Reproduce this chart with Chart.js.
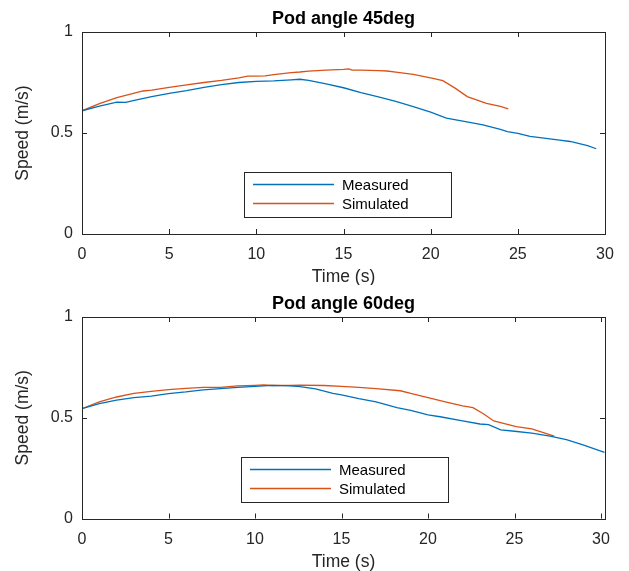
<!DOCTYPE html>
<html>
<head>
<meta charset="utf-8">
<script src="https://cdn.jsdelivr.net/npm/chart.js@4/dist/chart.umd.min.js"></script>
<style>
html,body{margin:0;padding:0;background:#fff;}
#wrap{position:relative;width:629px;height:571px;overflow:hidden;}
.pane{position:absolute;left:0;}
</style>
</head>
<body>
<div id="wrap">
  <div class="pane" style="top:0px"><canvas id="c1" width="629" height="285"></canvas></div>
  <div class="pane" style="top:285px"><canvas id="c2" width="629" height="286"></canvas></div>
</div>
<script>
// ---------- DATA ----------
const titles = ["Pod angle 45deg", "Pod angle 60deg"];
const seriesLabels = ["Measured", "Simulated"];
const xTitle = "Time (s)";
const yTitle = "Speed (m/s)";
const yTickValues = [0, 0.5, 1];
const xTickStep = 5;

const t45Measured = [0,1,2,2.5,3,4,5,6,7,8,9,10,11,12,12.5,13,14,15,16,17,18,19,20,20.9,22,23,24,24.4,25,25.7,26.5,27.4,28,29,29.5];
const v45Measured = [0.610,0.633,0.653,0.652,0.662,0.680,0.696,0.710,0.726,0.740,0.750,0.756,0.758,0.763,0.766,0.760,0.743,0.724,0.700,0.679,0.656,0.630,0.603,0.574,0.556,0.540,0.518,0.507,0.498,0.483,0.475,0.465,0.458,0.438,0.422];

const t45Simulated = [0,1,2,3,3.5,4,5,6,7,8,9,9.5,10,10.5,11,12,12.5,13,14,15,15.3,15.5,16,17,17.5,18,19,20,20.7,21.4,22.1,23.2,24,24.45];
const v45Simulated = [0.610,0.645,0.675,0.697,0.708,0.712,0.726,0.738,0.750,0.760,0.773,0.782,0.782,0.783,0.789,0.799,0.802,0.806,0.811,0.815,0.817,0.811,0.811,0.809,0.807,0.801,0.790,0.773,0.759,0.722,0.680,0.647,0.632,0.620];

const t60Measured = [0,1,2,3,4,5,6,7,8,9,10,11,12,12.6,13.5,14.5,15,16,17,18.2,19,20,20.7,22,23,23.5,24.2,25,26,27.05,28,29,30.2];
const v60Measured = [0.545,0.570,0.587,0.600,0.607,0.620,0.628,0.638,0.645,0.651,0.656,0.661,0.658,0.654,0.643,0.621,0.613,0.595,0.579,0.550,0.537,0.514,0.505,0.484,0.469,0.466,0.440,0.433,0.424,0.409,0.392,0.364,0.328];

const t60Simulated = [0,1,2,3,4,5,6,7,8,9,10,10.5,11,12,12.6,14,15,16,17,18.4,19,20,21,22,22.6,23.2,23.8,25.1,26,27.3];
const v60Simulated = [0.545,0.579,0.603,0.621,0.631,0.640,0.646,0.651,0.651,0.658,0.661,0.663,0.660,0.661,0.662,0.660,0.656,0.651,0.645,0.634,0.621,0.600,0.579,0.559,0.550,0.520,0.484,0.456,0.445,0.409];

const xMax = [30, 30.23];

// ---------- STYLE ----------
const colBlue = "#0072BD";
const colOrange = "#D95319";
const axisCol = "#262626";
const fontFam = "'Liberation Sans', Arial, Helvetica, sans-serif";

function pts(xs, ys){ return xs.map((x,i)=>({x:x, y:ys[i]})); }

const matlabPlugin = {
  id: 'matlabDecor',
  afterDraw(chart, args, opts){
    const ctx = chart.ctx;
    const a = chart.chartArea;
    const xs = chart.scales.x, ys = chart.scales.y;
    ctx.save();
    // box
    ctx.strokeStyle = axisCol;
    ctx.lineWidth = 1;
    ctx.strokeRect(Math.round(a.left)+0.5, Math.round(a.top)+0.5, Math.round(a.right-a.left), Math.round(a.bottom-a.top));
    // inner ticks
    const tl = 5;
    ctx.beginPath();
    xs.ticks.forEach(t=>{
      const px = Math.round(xs.getPixelForValue(t.value))+0.5;
      ctx.moveTo(px, a.bottom); ctx.lineTo(px, a.bottom - tl);
      ctx.moveTo(px, a.top); ctx.lineTo(px, a.top + tl);
    });
    ys.ticks.forEach(t=>{
      const py = Math.round(ys.getPixelForValue(t.value))+0.5;
      ctx.moveTo(a.left, py); ctx.lineTo(a.left + tl, py);
      ctx.moveTo(a.right, py); ctx.lineTo(a.right - tl, py);
    });
    ctx.stroke();
    // title
    const cx = (a.left + a.right)/2;
    ctx.fillStyle = "#000";
    ctx.font = "bold 18px " + fontFam;
    ctx.textAlign = "center";
    ctx.textBaseline = "alphabetic";
    ctx.fillText(opts.title, cx, 24);
    // x title
    ctx.fillStyle = axisCol;
    ctx.font = "17.5px " + fontFam;
    ctx.fillText(xTitle, cx, 282);
    // y title
    ctx.save();
    ctx.translate(23, (a.top + a.bottom)/2);
    ctx.rotate(-Math.PI/2);
    ctx.textBaseline = "middle";
    ctx.fillText(yTitle, 0, 0);
    ctx.restore();
    // legend
    const L = opts.legend;
    ctx.fillStyle = "#fff";
    ctx.fillRect(L.left, L.top, L.width, L.height);
    ctx.strokeStyle = axisCol;
    ctx.lineWidth = 1;
    ctx.strokeRect(L.left+0.5, L.top+0.5, L.width, L.height);
    ctx.font = "15px " + fontFam;
    ctx.textAlign = "left";
    ctx.textBaseline = "middle";
    chart.data.datasets.forEach((ds, i)=>{
      const ly = L.top + 12.5 + i*19;
      ctx.strokeStyle = ds.borderColor;
      ctx.lineWidth = 1.3;
      ctx.beginPath();
      ctx.moveTo(L.left + 9, ly); ctx.lineTo(L.left + 90, ly);
      ctx.stroke();
      ctx.fillStyle = "#000";
      ctx.fillText(ds.label, L.left + 98, ly + 1);
    });
    ctx.restore();
  }
};

function makeChart(id, idx, tM, vM, tS, vS, xHeight, legendBox){
  return new Chart(document.getElementById(id), {
    type: 'line',
    data: {
      datasets: [
        {label: seriesLabels[0], data: pts(tM, vM), borderColor: colBlue, borderWidth: 1.3, pointRadius: 0, tension: 0, fill: false},
        {label: seriesLabels[1], data: pts(tS, vS), borderColor: colOrange, borderWidth: 1.3, pointRadius: 0, tension: 0, fill: false}
      ]
    },
    options: {
      responsive: false,
      animation: false,
      events: [],
      layout: {padding: {top: 32, right: 24, bottom: 0, left: 0}},
      plugins: {
        legend: {display: false},
        title: {display: false},
        tooltip: {enabled: false},
        matlabDecor: {title: titles[idx], legend: legendBox}
      },
      scales: {
        x: {
          type: 'linear', min: 0, max: xMax[idx],
          grid: {display: false, drawTicks: false},
          border: {display: false},
          ticks: {stepSize: xTickStep, includeBounds: false, autoSkip: false, maxRotation: 0, padding: 11,
                  color: axisCol, font: {family: fontFam, size: 16}},
          afterFit: s => { s.height = xHeight; }
        },
        y: {
          type: 'linear', min: 0, max: 1,
          grid: {display: false, drawTicks: false},
          border: {display: false},
          afterBuildTicks: s => { s.ticks = yTickValues.map(v=>({value:v})); },
          ticks: {padding: 9, color: axisCol, font: {family: fontFam, size: 16},
                  callback: v => String(v)},
          afterFit: s => { s.width = 82; }
        }
      }
    },
    plugins: [matlabPlugin]
  });
}

makeChart('c1', 0, t45Measured, v45Measured, t45Simulated, v45Simulated, 51, {left:244, top:172, width:207, height:45});
makeChart('c2', 1, t60Measured, v60Measured, t60Simulated, v60Simulated, 52.5, {left:241, top:172, width:207, height:45});
</script>
</body>
</html>
